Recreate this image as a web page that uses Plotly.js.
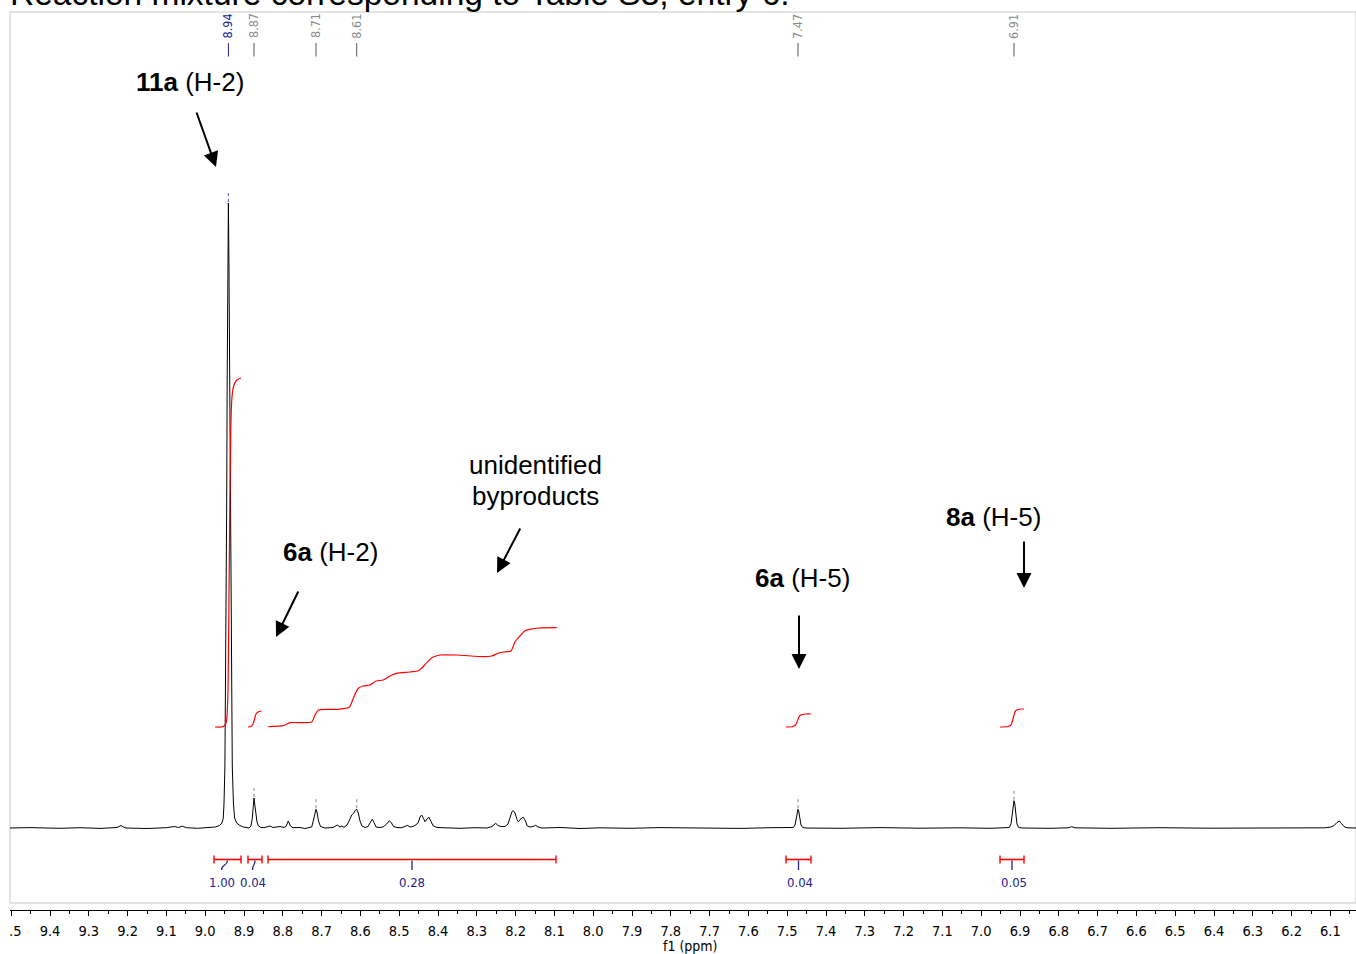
<!DOCTYPE html>
<html><head><meta charset="utf-8">
<script src="https://cdn.plot.ly/plotly-3.0.1.min.js"></script>
<style>html,body{margin:0;padding:0;background:#fff;} #chart{width:1356px;height:954px;}</style>
</head><body><div id="chart"></div>
<script>
// ---------------- DATA ----------------
const chartTitle = 'Reaction mixture corresponding to Table S3, entry 6.';
const axisTitle = 'f1 (ppm)';

// 1H spectrum (ppm, intensity in arbitrary units, baseline = 0)
const ppm = [9.5031,9.4516,9.3742,9.3227,9.2711,9.2376,9.2273,9.2222,9.2170,9.2119,9.2041,9.1500,9.1000,9.0794,9.0691,9.0588,9.0485,9.0200,9.0000,8.9850,
 8.9737,8.9634,8.9567,8.9534,8.9515,8.9492,8.9479,8.9467,8.9448,8.9433,8.9418,8.9402,8.9387,8.9371,8.9353,8.9332,8.9320,8.9302,8.9273,8.9242,8.9188,8.9106,8.9015,8.8950,
 8.8871,8.8820,8.8786,8.8760,8.8742,8.8724,8.8698,8.8665,8.8626,8.8562,8.8485,8.8433,8.8330,8.8253,8.8072,8.7969,8.7918,8.7858,8.7802,8.7737,8.7557,8.7428,
 8.7255,8.7209,8.7170,8.7144,8.7119,8.7080,8.7028,8.6912,8.6706,8.6595,8.6526,8.6474,8.6423,
 8.6345,8.6281,8.6224,8.6178,8.6139,8.6095,8.6054,8.6010,8.5959,8.5881,8.5804,8.5740,8.5693,8.5649,8.5598,8.5495,8.5418,8.5322,8.5255,8.5198,8.5147,8.5057,8.4954,
 8.4851,8.4791,8.4722,8.4644,8.4567,8.4515,8.4464,8.4420,8.4374,8.4335,8.4284,8.4232,8.4180,8.4121,8.4026,8.3820,8.3433,8.3046,8.2737,
 8.2608,8.2513,8.2454,8.2376,8.2273,8.2196,8.2131,8.2093,8.2059,8.2015,8.1964,8.1930,8.1887,8.1848,8.1802,8.1758,8.1698,8.1629,8.1552,8.1482,8.1423,8.1320,
 8.0856,8.0340,7.9825,7.9052,7.8278,7.7247,7.6216,7.5443,7.4928,
 7.4843,7.4799,7.4765,7.4740,7.4722,7.4704,7.4678,7.4644,7.4601,7.4515,
 7.3639,7.2608,7.1577,7.0546,6.9773,6.9387,
 6.9276,6.9232,6.9198,6.9173,6.9155,6.9137,6.9111,6.9077,6.9033,6.8923,
 6.8227,6.7763,6.7668,6.7582,6.6680,6.5392,6.4103,6.2814,6.1784,6.1139,
 6.0985,6.0907,6.0830,6.0771,6.0714,6.0649,6.0572,6.0340];
const intensity = [0,0.4,-0.3,0.3,-0.4,0.2,0.5,1.5,2.5,1.2,0,-0.5,0.3,1.5,0.5,1.8,0.3,-0.3,0.2,0,
 1,2.5,5,10,25,62,120,200,312,450,560,625,560,450,312,200,120,62,25,10,5,2.5,1,0.5,
 0,2,10,22,30,24,14,6,2,0.5,0.3,1,2,0.5,1.5,0.5,1.5,7,2,0.3,0.5,-0.5,
 1,8,17,18.7,16,7,1.5,0,0.5,3,1,2,0.7,
 3,8,13,14.5,17.5,18.7,15,7,2,0.5,1.5,6,8.7,5.5,1,0.5,1,4,7.3,5,1.5,0.5,0.2,
 1.5,2.7,1,1.5,3.3,5,11,13,9.5,6.3,9,10.7,6.5,2,0.5,0,-0.3,0.3,0,
 1.5,4.7,2.5,1.5,1.5,4,12,16.5,17.3,15,8.5,6.3,8,10,10.7,8,2,1,1.5,2.7,1,0,
 0.5,-0.5,0.2,-0.3,0.4,0,-0.4,0.3,0,
 0.5,3,10,17,18.7,17,10,3,0.5,0,
 -0.3,0.4,-0.2,0.2,-0.3,0,
 0.5,4,14,25,27.3,25,14,4,0.5,0,
 -0.3,0.2,1.3,0.2,-0.3,0.3,-0.2,0.2,-0.2,0.2,
 1,2.5,5.5,7,4.5,1.5,0.2,0];

// integral curves (same intensity scale)
const integral1Ppm = [8.9747,8.9593,8.9515,8.9464,8.9438,8.9412,8.9392,8.9374,8.9356,8.9340,8.9322,8.9296,8.9258,8.9206,8.9142,8.9077];
const integral1Val = [101,101,102,105,112,138,208,288,358,398,423,436,443,447,449,450];
const integral2Ppm = [8.8897,8.8820,8.8768,8.8729,8.8691,8.8639,8.8549];
const integral2Val = [101,101.5,104,109,114,116,117];
const integral3Ppm = [8.8374,8.7987,8.7814,8.7255,8.7170,8.7085,8.6570,8.6286,8.6183,8.6054,8.5925,8.5753,8.5598,8.5410,8.5193,8.5064,8.4722,8.4508,8.4420,8.4291,8.4137,8.3948,8.3518,8.2832,8.2616,8.2446,8.2317,8.2119,8.2015,8.1887,8.1758,8.1629,8.1415,8.0941];
const integral3Val = [101.3,102.3,105.3,106,113,118,118.7,120.7,129.7,139.7,142,143,147,148,153,154.7,156,157.3,159.7,165.3,170.7,173,173,171.3,172,174.7,176,177,186.3,192,197.3,198.7,200,200.3];
const integral4Ppm = [7.5031,7.4851,7.4786,7.4747,7.4709,7.4670,7.4619,7.4515,7.4387];
const integral4Val = [101,101.5,103,106,110,112.5,113.5,114,114];
const integral5Ppm = [6.9515,6.9309,6.9232,6.9193,6.9155,6.9116,6.9052,6.8974,6.8897];
const integral5Val = [101,101.5,103,107,113,117,118.5,119,119];

// integration ranges and values
const integralFrom = [8.9773,8.8897,8.8381,7.5031,6.9515];
const integralTo   = [8.9077,8.8536,8.0959,7.4387,6.8897];
const integralValues = ['1.00','0.04','0.28','0.04','0.05'];

// peak picking labels
const peakLabels = ['8.94','8.87','8.71','8.61','7.47','6.91'];

// assignment texts
const assignTexts = ['<b>11a</b> (H-2)','<b>6a</b> (H-2)','unidentified<br>byproducts','<b>6a</b> (H-5)','<b>8a</b> (H-5)'];

// ---------------- LAYOUT HELPERS ----------------
const W = 1356, H = 954, ML = 10, MR = 0, MT = 12, MB = 44;
const plotW = W - ML - MR, plotH = H - MT - MB;
const px = x => (x - ML) / plotW;          // page pixel -> paper x
const py = y => (H - MB - y) / plotH;      // page pixel -> paper y
const xRange = [9.50309, 6.03402];
const ppmPerPx = (xRange[0] - xRange[1]) / plotW;
const navy = '#22228c', red = '#ff0000', grayLbl = '#8c8c8c';
const tickFont = 'DejaVu Sans Condensed, DejaVu Sans, sans-serif';
const textFont = 'Liberation Sans, Arial, sans-serif';

const traces = [{
  x: ppm, y: intensity, type: 'scatter', mode: 'lines',
  line: {color: '#000', width: 1}, hoverinfo: 'skip', showlegend: false
}];
[[integral1Ppm,integral1Val],[integral2Ppm,integral2Val],[integral3Ppm,integral3Val],[integral4Ppm,integral4Val],[integral5Ppm,integral5Val]]
 .forEach(([xs, ys]) => traces.push({x: xs, y: ys, type: 'scatter', mode: 'lines',
   line: {color: red, width: 1.2, shape: 'spline', smoothing: 0.6}, hoverinfo: 'skip', showlegend: false}));

const shapes = [];
const annotations = [];

// frame
shapes.push({type: 'rect', xref: 'paper', yref: 'paper', x0: 0, x1: 1, y0: py(903), y1: 1,
  line: {color: '#c8c8c8', width: 1}, fillcolor: 'rgba(0,0,0,0)', layer: 'below'});

// integration bars
const labelShiftPx = [-6, -2.5, 0, 1.5, 1.5];
const curvedMarker = [true, true, false, false, false];
integralFrom.forEach((a, i) => {
  const b = integralTo[i];
  const mid = (a + b) / 2;
  const lab = mid - labelShiftPx[i] * ppmPerPx;
  shapes.push({type: 'line', xref: 'x', yref: 'paper', x0: a, x1: b, y0: py(859.5), y1: py(859.5), line: {color: red, width: 1.6}});
  shapes.push({type: 'line', xref: 'x', yref: 'paper', x0: a, x1: a, y0: py(855.5), y1: py(863.5), line: {color: red, width: 1.4}});
  shapes.push({type: 'line', xref: 'x', yref: 'paper', x0: b, x1: b, y0: py(855.5), y1: py(863.5), line: {color: red, width: 1.4}});
  if (curvedMarker[i]) {
    shapes.push({type: 'path', xref: 'x', yref: 'paper',
      path: `M ${mid},${py(860.5)} C ${mid},${py(866)} ${lab},${py(864)} ${lab},${py(870)}`,
      line: {color: navy, width: 1.3}, fillcolor: 'rgba(0,0,0,0)'});
  } else {
    shapes.push({type: 'line', xref: 'x', yref: 'paper', x0: mid, x1: mid, y0: py(860.5), y1: py(870), line: {color: navy, width: 1.3}});
  }
  annotations.push({xref: 'x', yref: 'paper', x: lab, y: py(882.5), text: integralValues[i], showarrow: false,
    xanchor: 'center', yanchor: 'middle', font: {family: tickFont, size: 13, color: navy}});
});

// peak labels + markers (positions from local maximum of the spectrum)
peakLabels.forEach((lbl, i) => {
  const v = parseFloat(lbl);
  let best = -1, bx = v;
  ppm.forEach((p, k) => { if (Math.abs(p - v) <= 0.006 && intensity[k] > best) { best = intensity[k]; bx = p; } });
  const col = i === 0 ? navy : grayLbl;
  annotations.push({xref: 'x', yref: 'paper', x: bx, y: py(26), text: lbl, textangle: -90, showarrow: false,
    xanchor: 'center', yanchor: 'middle', font: {family: tickFont, size: 12.5, color: col}});
  shapes.push({type: 'line', xref: 'x', yref: 'paper', x0: bx, x1: bx, y0: py(43), y1: py(56.5), line: {color: i === 0 ? navy : '#555', width: 1}});
  shapes.push({type: 'line', xref: 'x', yref: 'y', x0: bx, x1: bx, y0: best + 1, y1: best + 10,
    line: {color: i === 0 ? '#6a6acc' : '#999', width: 1.2, dash: 'dot'}});
});

// assignment texts (each line placed separately) and arrows
const textPos = [[190, [82]], [330, [552]], [535, [465, 496]], [802, [578]], [993, [517]]];
assignTexts.forEach((t, i) => {
  t.split('<br>').forEach((line, j) => {
    annotations.push({xref: 'paper', yref: 'paper', x: px(textPos[i][0]), y: py(textPos[i][1][j]), text: line, showarrow: false,
      xanchor: 'center', yanchor: 'middle', font: {family: textFont, size: 26, color: '#000'}});
  });
});
const arrows = [[[196,111],[216,167]], [[299,590],[276,637]], [[521,527],[497,573]], [[799,614],[799,669]], [[1024,540],[1024,588]]];
arrows.forEach(([tail, tip]) => {
  annotations.push({xref: 'paper', yref: 'paper', x: px(tip[0]), y: py(tip[1]), axref: 'pixel', ayref: 'pixel',
    ax: tail[0] - tip[0], ay: tail[1] - tip[1], text: '', showarrow: true, arrowhead: 2, arrowsize: 1.5,
    arrowwidth: 2, arrowcolor: '#000', standoff: 0});
});

// title (cut at the top of the page) and axis title
annotations.push({xref: 'paper', yref: 'paper', x: px(8), y: py(-6), text: chartTitle, showarrow: false,
  xanchor: 'left', yanchor: 'middle', font: {family: textFont, size: 33.5, color: '#000'}});
annotations.push({xref: 'paper', yref: 'paper', x: px(690), y: py(946), text: axisTitle, showarrow: false,
  xanchor: 'center', yanchor: 'middle', font: {family: tickFont, size: 14, color: '#000'}});

// mask the clipped part of the leftmost tick label
shapes.push({type: 'rect', xref: 'paper', yref: 'paper', x0: px(-5), x1: px(9.5), y0: py(954), y1: py(912),
  fillcolor: '#fff', line: {width: 0}, layer: 'above'});

const layout = {
  width: W, height: H, margin: {l: ML, r: MR, t: MT, b: MB, pad: 0},
  paper_bgcolor: '#fff', plot_bgcolor: '#fff', showlegend: false, hovermode: false,
  xaxis: {range: xRange, autorange: false, tickmode: 'linear', tick0: 0, dtick: 0.1, tickformat: '.1f',
    ticks: 'outside', ticklen: 5, tickwidth: 1, tickcolor: '#000', showline: true, linecolor: '#000', linewidth: 1,
    showgrid: false, zeroline: false, ticklabelstandoff: 3, ticklabeloverflow: 'allow',
    tickfont: {family: tickFont, size: 14.5, color: '#000'},
    minor: {dtick: 0.05, tick0: 0, ticks: 'outside', ticklen: 3, tickwidth: 1, tickcolor: '#000', showgrid: false}},
  yaxis: {range: [-82, 816], autorange: false, visible: false, showgrid: false, zeroline: false},
  shapes: shapes, annotations: annotations
};
Plotly.newPlot('chart', traces, layout, {displayModeBar: false, staticPlot: true});
</script>
</body></html>
